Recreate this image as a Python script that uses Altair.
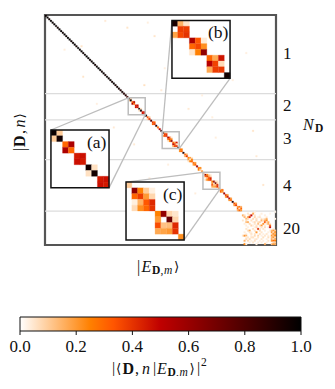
import altair as alt
import pandas as pd

N = 136
LEAD_DIAG = [.97,.98,.96,.99,.97,.98,.97,.95,.98,.99,.96,.98,.97,.99,.98,.96,.97,.98,.95,.99,.97,.98,.96,.97,.99,.98,.96,.97,.98,.95,.97,.99,.98,.96,.97,.94,.98,.96,.97,.95,.98,.93,.96,.94,.92,.95]

INSET_A = [
 [.97,.10,0,0,0,0,0,0,0,0],
 [.10,.95,0,0,0,0,0,0,0,0],
 [0,0,.30,.55,0,0,0,0,0,0],
 [0,0,.55,.30,0,0,0,0,0,0],
 [0,0,0,0,.45,.47,0,0,0,0],
 [0,0,0,0,.47,.45,0,0,0,0],
 [0,0,0,0,0,0,.95,.06,0,0],
 [0,0,0,0,0,0,.06,.95,0,0],
 [0,0,0,0,0,0,0,0,.45,.47],
 [0,0,0,0,0,0,0,0,.47,.45],
]
INSET_B = [
 [.93,.15,.05,0,0,0,0,0,0,0],
 [0,.38,.38,0,0,0,0,0,0,0],
 [.18,.36,.40,0,0,0,0,0,0,0],
 [0,0,0,.55,.33,.04,0,0,0,0],
 [0,0,0,.30,.36,.22,0,0,0,0],
 [0,0,0,.05,.25,.62,0,0,0,0],
 [0,0,0,0,0,0,.30,.17,.46,0],
 [0,0,0,0,0,0,.52,.37,.07,0],
 [0,0,0,0,0,0,.17,.38,.39,0],
 [0,0,0,0,0,0,0,0,0,.95],
]
INSET_C = [
 [.10,0,0,0,0,0,0,0,0,0],
 [0,.62,.25,.10,.03,0,0,0,0,0],
 [0,.30,.38,.20,.08,0,0,0,0,0],
 [0,.03,.15,.33,.42,0,0,0,0,0],
 [0,.07,.22,.30,.40,0,0,0,0,0],
 [0,0,0,0,0,.25,.62,.08,.05,0],
 [0,0,0,0,0,.20,0,.72,.08,0],
 [0,0,0,0,0,.35,.12,.13,.42,0],
 [0,0,0,0,0,.17,.18,.20,.40,0],
 [0,0,0,0,0,0,0,0,0,.22],
]
BLOCKS_1 = [[[.9]],[[.9]],[[.85]]]
BLOCKS_2 = [[[.95]],[[.35,.1],[.1,.4]],[[.8]],[[.4,.3],[.3,.4]],[[.9]],[[.3]],[[.5]],[[.85]]]
BLOCKS_3 = [[[.3,.25],[.25,.3]],[[.9]],[[.3,.15],[.15,.4]],[[.25,.2,.05],[.2,.05,.25],[.05,.25,.3]],[[.3,.2],[.2,.3]],[[.6]],[[.3,.25],[.25,.1]],[[.2]]]
BLOCKS_4 = [[[.25,.3],[.3,.2]],[[.6]],[[.4,.2],[.2,.45]],[[.55,.2],[.2,.3]],[[.9]],[[.35,.2],[.2,.4]],[[.2,.3,.15],[.3,.05,.3],[.15,.3,.2]]]

LAST_20 = [
 [0,0,0,0,0,0,0,.03,0,0,0,0,0,0,0,0,0,0,0,.02],
 [0,0,0,.05,0,0,.18,0,0,0,0,.03,0,0,0,0,.02,0,0,0],
 [.15,.06,0,0,.10,.48,0,.05,0,0,.02,0,0,.03,0,0,0,0,0,0],
 [0,.14,0,.18,.42,0,0,.08,0,.03,.05,0,0,0,.03,0,0,0,0,0],
 [0,0,.14,.07,0,0,.07,0,.05,0,0,.05,.03,.06,.14,0,0,0,0,.02],
 [.05,0,.06,0,0,.06,0,0,.07,0,0,.14,.06,.16,.22,0,0,0,0,0],
 [0,0,.12,.16,0,0,.03,.07,0,.06,.08,0,0,.34,.07,.16,0,0,0,0],
 [0,.03,0,0,.07,0,0,.05,0,.12,0,0,.20,0,.05,.16,.05,0,0,0],
 [0,0,.03,0,0,.08,.03,0,.05,0,.05,.20,0,.03,0,0,.30,0,0,0],
 [0,0,0,.03,0,0,0,.03,.07,0,0,.05,0,.07,0,.03,.50,0,0,0],
 [0,0,.05,0,0,0,.06,0,0,.42,.05,0,.05,0,0,0,0,0,.03,0],
 [0,0,0,.06,.16,0,0,.05,0,0,.07,0,0,.03,0,0,.03,.14,.20,.12],
 [0,.03,0,0,.05,.03,0,0,.20,0,0,.05,0,0,0,.03,0,.20,.07,.22],
 [0,0,.03,0,0,.06,0,.05,0,0,.06,0,.03,0,.05,0,0,.07,.22,.14],
 [.05,.20,.14,0,0,.03,0,.07,0,.08,0,.03,0,.05,0,.03,0,.20,.12,.25],
 [0,0,.03,.05,0,.05,.06,0,0,.05,0,0,.06,0,0,.06,0,.12,.20,.08],
 [0,0,.07,0,.07,0,0,.03,.05,0,0,.05,0,0,.03,0,0,.16,.07,.16],
 [0,.14,0,.08,0,.03,0,.06,0,0,.03,0,.03,0,0,.05,0,.20,.30,.25],
 [0,0,0,0,.03,0,.05,0,0,.03,0,.03,0,0,.03,0,0,0,.07,.10],
 [0,.25,.03,0,0,0,0,0,.03,0,0,0,0,.16,0,0,0,.12,.20,.16],
]
NOISE_ROW = [4,7,9,14,18,22,25,31,36,38,41,44,52,55,60,66,68,72,76,83,88,90,96,100,105,108,33,27,12,3,20,47]
NOISE_COL = [60,48,82,75,21,118,95,70,22,110,58,68,30,84,98,40,122,100,52,124,72,35,61,128,88,50,80,100,64,35,11,92]
NOISE_VAL = [.03,.05,.03,.04,.05,.03,.06,.03,.05,.03,.06,.04,.03,.04,.03,.04,.05,.03,.04,.04,.03,.04,.03,.05,.03,.03,.04,.03,.05,.04,.03,.03]

BOUNDS = [46.5, 62, 85.5, 116, 135.5]
INSET_BOX = {"a": (49, 3.5, 68.0), "b": (69, 74.75, 3.25), "c": (93, 47.7, 98.8)}
INSET_DATA = {"a": INSET_A, "b": INSET_B, "c": INSET_C}
CB_TICKS = [0, .2, .4, .6, .8, 1.0]
CMAP_POS = [0, .25, .3333, .5, 1]
CMAP_RGB = [(255, 255, 255), (255, 128, 0), (255, 85, 0), (191, 0, 0), (0, 0, 0)]

W, H = 231, 230
OX, OY = 45, 15
PX = W / N
PY = H / N

def hexcol(v):
    for k in range(len(CMAP_POS) - 1):
        a, b = CMAP_POS[k], CMAP_POS[k + 1]
        if v <= b:
            t = (v - a) / (b - a)
            c = [round(p + (q - p) * t) for p, q in zip(CMAP_RGB[k], CMAP_RGB[k + 1])]
            return "#%02x%02x%02x" % tuple(c)
    return "#000000"

cells = {}
def put(r, c, v):
    if v > 0:
        cells[(r, c)] = v
for i, v in enumerate(LEAD_DIAG):
    put(i, i, v)
pos = len(LEAD_DIAG)
seq = BLOCKS_1 + [INSET_A] + BLOCKS_2 + [INSET_B] + BLOCKS_3 + [INSET_C] + BLOCKS_4 + [LAST_20]
for b in seq:
    for i, row in enumerate(b):
        for j, v in enumerate(row):
            put(pos + i, pos + j, v)
    pos += len(b)
for r, c, v in zip(NOISE_ROW, NOISE_COL, NOISE_VAL):
    if (r, c) not in cells:
        put(r, c, v)
main_df = pd.DataFrame([{"x0": c, "x1": c + 1, "y0": r, "y1": r + 1, "c": hexcol(v)} for (r, c), v in cells.items()])

xs = alt.Scale(domain=[0, N], nice=False, zero=False)
ys = alt.Scale(domain=[N, 0], nice=False, zero=False)

CB_L, CB_T, CB_LEN, CB_TH = 20, 317, 281, 14
FONT = "Liberation Serif"

def X(f="x0"):
    return alt.X(f"{f}:Q", scale=xs, axis=None)
def Y(f="y0", axis=None):
    return alt.Y(f"{f}:Q", scale=ys, axis=axis)

layers = []
layers.append(alt.Chart(pd.DataFrame({"y0": BOUNDS[:-1]})).mark_rule(color="#dcdcdc", strokeWidth=1.3).encode(y=Y()))
layers.append(alt.Chart(main_df).mark_rect(strokeWidth=0.25).encode(
    x=X(), x2="x1:Q",
    y=Y(axis=alt.Axis(values=BOUNDS, labels=False, ticks=True, tickSize=5, tickColor="#222", tickWidth=1.4, domain=False, grid=False, title=None)),
    y2="y1:Q",
    fill=alt.Fill("c:N", scale=None),
    stroke=alt.Stroke("c:N", scale=None),
))
boxes, conns = [], []
for k, (o, ix, iy) in INSET_BOX.items():
    boxes.append({"x0": o, "x1": o + 10, "y0": o, "y1": o + 10})
    sx, sy = 10 * 3.42, 10 * 3.42
    conns.append({"x0": o, "y0": o, "x1": ix, "y1": iy})
    conns.append({"x0": o + 10, "y0": o + 10, "x1": ix + sx, "y1": iy + sy})
layers.append(alt.Chart(pd.DataFrame(conns)).mark_rule(color="#bdbdbd", strokeWidth=1.3).encode(x=X(), x2="x1:Q", y=Y(), y2="y1:Q"))
layers.append(alt.Chart(pd.DataFrame(boxes)).mark_rect(fillOpacity=0, stroke="#bdbdbd", strokeWidth=1.5).encode(x=X(), x2="x1:Q", y=Y(), y2="y1:Q"))
for k, (o, ix, iy) in INSET_BOX.items():
    cs = 3.42
    frame = pd.DataFrame([{"x0": ix, "x1": ix + 10 * cs, "y0": iy, "y1": iy + 10 * cs}])
    layers.append(alt.Chart(frame).mark_rect(fill="white").encode(x=X(), x2="x1:Q", y=Y(), y2="y1:Q"))
    rows = [{"x0": ix + j * cs, "x1": ix + (j + 1) * cs, "y0": iy + i * cs, "y1": iy + (i + 1) * cs, "c": hexcol(v)}
            for i, row in enumerate(INSET_DATA[k]) for j, v in enumerate(row) if v > 0]
    layers.append(alt.Chart(pd.DataFrame(rows)).mark_rect(strokeWidth=0.3).encode(
        x=X(), x2="x1:Q", y=Y(), y2="y1:Q",
        fill=alt.Fill("c:N", scale=None),
        stroke=alt.Stroke("c:N", scale=None)))
    layers.append(alt.Chart(frame).mark_rect(fillOpacity=0, stroke="#111", strokeWidth=1.5).encode(x=X(), x2="x1:Q", y=Y(), y2="y1:Q"))

grad = alt.LinearGradient(gradient="linear", x1=0, x2=1, y1=0, y2=0,
                          stops=[alt.GradientStop(offset=p, color=hexcol(p)) for p in CMAP_POS])
bar_df = pd.DataFrame([{"x0": (CB_L - OX) / PX, "x1": (CB_L - OX + CB_LEN) / PX}])
layers.append(alt.Chart(bar_df).mark_rect(fill=grad, stroke="#111", strokeWidth=1).encode(
    x=X(), x2="x1:Q", y=alt.value(CB_T - OY), y2=alt.value(CB_T + CB_TH - OY)))
tick_df = pd.DataFrame({"x0": [(CB_L - OX + v * CB_LEN) / PX for v in CB_TICKS], "t": ["%.1f" % v for v in CB_TICKS]})
layers.append(alt.Chart(tick_df).mark_rule(color="#111", strokeWidth=1).encode(
    x=X(), y=alt.value(CB_T + CB_TH - OY), y2=alt.value(CB_T + CB_TH + 4 - OY)))
layers.append(alt.Chart(tick_df).mark_text(font=FONT, fontSize=17, color="#111", baseline="middle", align="center").encode(
    x=X(), y=alt.value(347 - OY), text="t:N"))

def piece(text, x, y, size=15, style="normal", weight="normal", angle=0, align="left", font=FONT):
    return alt.Chart(alt.Data(values=[{}])).mark_text(
        text=text, font=font, fontSize=size, fontStyle=style, fontWeight=weight, angle=angle,
        align=align, baseline="middle", color="#111"
    ).encode(x=alt.value(x - OX), y=alt.value(y - OY))

def math_label(x, y, big=16, small=11.5):
    ang = "DejaVu Serif"
    return [
        piece("|", x, y, big), piece("⟨", x + 4, y, big - 2.5, font=ang), piece("D", x + 10.5, y, big, weight="bold"),
        piece(",", x + 23, y, big), piece("n", x + 30, y, big, style="italic"), piece("|", x + 41, y, big),
        piece("E", x + 45, y, big, style="italic"), piece("D", x + 55.5, y + 3.5, small, weight="bold"),
        piece(",", x + 64, y + 3.5, small), piece("m", x + 67.5, y + 3.5, small, style="italic"),
        piece("⟩", x + 77.5, y, big - 2.5, font=ang), piece("|", x + 85, y, big), piece("2", x + 89, y - 6, small),
    ]

T = []
for t, x, y in [("(a)", 87, 143), ("(b)", 208, 33), ("(c)", 163, 195)]:
    T.append(piece(t, x, y, 17.5))
for t, x, y in [("1", 283, 54), ("2", 283, 106), ("3", 283, 139), ("4", 283, 186), ("20", 283, 229)]:
    T.append(piece(t, x, y, 17))
T += [piece("N", 303, 125, 16, style="italic"), piece("D", 315, 128.5, 11.5, weight="bold")]
xl, yl = 137, 267
T += [piece("|", xl, yl, 16), piece("E", xl + 4.5, yl, 16, style="italic"), piece("D", xl + 15, yl + 3.5, 11.5, weight="bold"),
      piece(",", xl + 23.5, yl + 3.5, 11.5), piece("m", xl + 27, yl + 3.5, 11.5, style="italic"), piece("⟩", xl + 37, yl, 13.5, font="DejaVu Serif")]
ax = 20
T += [piece("|", ax, 151, 16, angle=270), piece("D", ax, 147, 16, weight="bold", angle=270), piece(",", ax, 134, 16, angle=270),
      piece("n", ax, 127.5, 16, style="italic", angle=270), piece("⟩", ax, 118.5, 13.5, angle=270, font="DejaVu Serif")]
T += math_label(112, 369)

chart = alt.layer(*layers, *T).properties(
    width=W, height=H,
    autosize=alt.AutoSizeParams(type="none"),
    padding={"left": OX - 8, "top": OY - 8, "right": 327 - (OX + W), "bottom": 376 - (OY + H)},
).configure_view(stroke="#555", strokeWidth=2.2)

chart.save("out.html", embed_options={"renderer": "svg", "actions": False})
